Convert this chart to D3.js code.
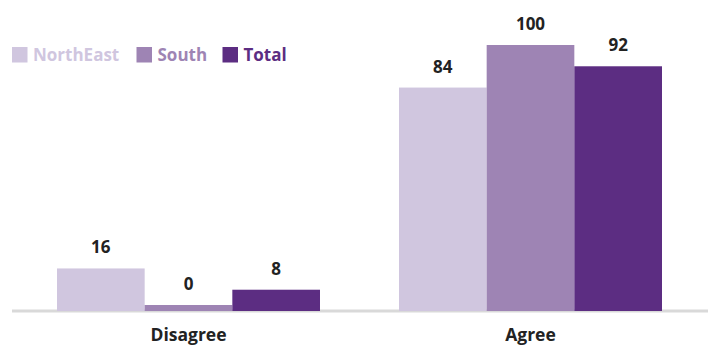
<!DOCTYPE html>
<html>
<head>
<meta charset="utf-8">
<script src="https://cdn.jsdelivr.net/npm/d3@7"></script>
<style>
  html, body { margin: 0; padding: 0; background: #ffffff; }
  svg { display: block; }
  text { font-family: "Open Sans", Lato, sans-serif; font-weight: 700; }
</style>
</head>
<body>
<div id="chart"></div>
<script>
// Responses by region, grouped by answer
const categories = ["Disagree", "Agree"];
const seriesNames = ["NorthEast", "South", "Total"];
const northEast = [16, 84];
const south = [0, 100];
const total = [8, 92];
const seriesValues = [northEast, south, total];
const seriesColors = ["#d0c6df", "#9e84b4", "#5c2d82"];

const width = 714, height = 345;
const baseline = 311;
const minBarHeight = 6; // keeps zero-valued bars visible

const svg = d3.select("#chart").append("svg")
  .attr("width", width)
  .attr("height", height);

const x0 = d3.scaleBand()
  .domain(categories)
  .range([17.5, 701.5])
  .paddingInner(0.231)
  .paddingOuter(0.1155);

const x1 = d3.scaleBand()
  .domain(seriesNames)
  .range([0, x0.bandwidth()])
  .padding(0);

const y = d3.scaleLinear()
  .domain([0, 100])
  .range([baseline, 45]);

// baseline rule
svg.append("line")
  .attr("x1", 12).attr("x2", 708)
  .attr("y1", baseline).attr("y2", baseline)
  .attr("stroke", "#d9d9d9")
  .attr("stroke-width", 3);

const rows = categories.map((c, i) => ({
  category: c,
  values: seriesNames.map((s, j) => ({ series: s, value: seriesValues[j][i], color: seriesColors[j] }))
}));

const groups = svg.selectAll("g.group")
  .data(rows)
  .join("g")
  .attr("class", "group")
  .attr("transform", d => `translate(${x0(d.category)},0)`);

const barTop = v => Math.min(y(v), baseline - minBarHeight);

groups.selectAll("rect")
  .data(d => d.values)
  .join("rect")
  .attr("x", d => x1(d.series))
  .attr("width", x1.bandwidth())
  .attr("y", d => barTop(d.value))
  .attr("height", d => baseline - barTop(d.value))
  .attr("fill", d => d.color);

groups.selectAll("text.value")
  .data(d => d.values)
  .join("text")
  .attr("class", "value")
  .attr("x", d => x1(d.series) + x1.bandwidth() / 2)
  .attr("y", d => barTop(d.value) - 15)
  .attr("text-anchor", "middle")
  .attr("font-size", 17)
  .attr("fill", "#222222")
  .text(d => d.value);

// category axis labels
svg.append("g")
  .selectAll("text")
  .data(categories)
  .join("text")
  .attr("x", d => x0(d) + x0.bandwidth() / 2)
  .attr("y", 341)
  .attr("text-anchor", "middle")
  .attr("font-size", 17.5)
  .attr("fill", "#222222")
  .text(d => d);

// legend
const legendX = [12, 136.5, 222.5];
const legend = svg.append("g")
  .selectAll("g")
  .data(seriesNames)
  .join("g")
  .attr("transform", (d, i) => `translate(${legendX[i]},47)`);

legend.append("rect")
  .attr("width", 15.5)
  .attr("height", 15.5)
  .attr("fill", (d, i) => seriesColors[i]);

legend.append("text")
  .attr("x", 21)
  .attr("y", 13.5)
  .attr("font-size", 17)
  .attr("fill", (d, i) => seriesColors[i])
  .text(d => d);
</script>
</body>
</html>
